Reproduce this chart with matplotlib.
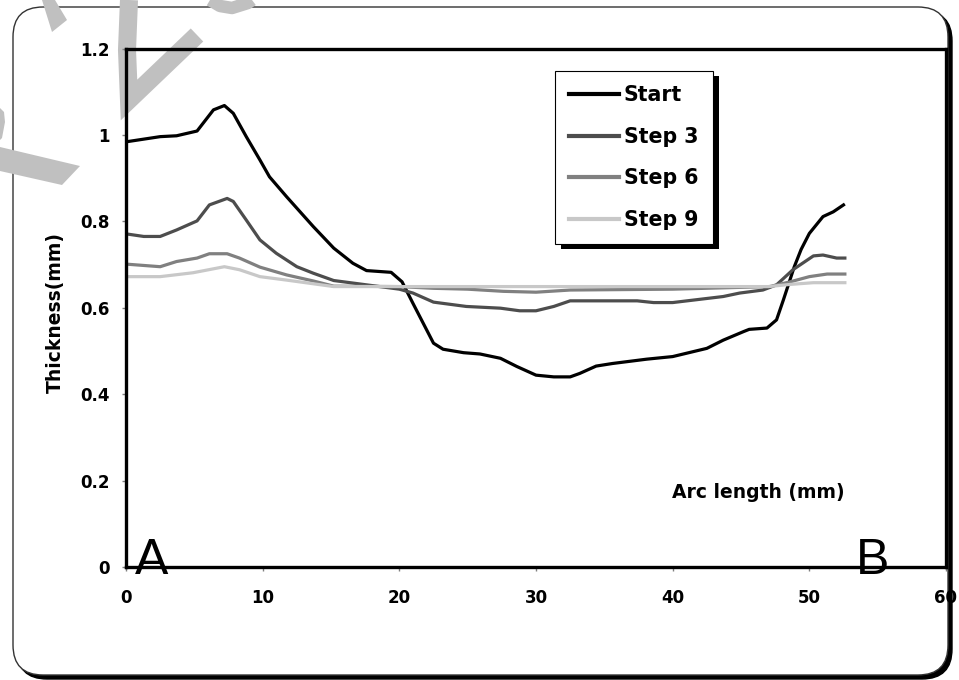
import matplotlib
matplotlib.use("Agg")
import matplotlib.pyplot as plt
from matplotlib.patches import FancyBboxPatch, Rectangle, Polygon
from matplotlib.lines import Line2D
from matplotlib.transforms import IdentityTransform

plt.rcParams['font.family'] = ['DejaVu Sans']

# -----------------------------
# Data
# -----------------------------
start_x = [0, 2.5, 3.7, 5.2, 6.4, 7.2, 7.85, 8.8, 9.8, 10.5,
           11.75, 13.7, 15.2, 16.6, 17.6, 19.4, 20.2, 21.0, 22.5, 23.2,
           24.7, 25.9, 27.4, 28.6, 30.0, 31.3, 32.5, 33.2, 34.4, 35.6,
           38.1, 40.0, 42.5, 43.7, 45.2, 45.6, 46.9, 47.6, 48.1, 48.9,
           49.4, 50.0, 51.0, 51.75, 52.5]
start_y = [0.984, 0.996, 0.998, 1.009, 1.058, 1.068, 1.050, 0.996, 0.942, 0.903,
           0.857, 0.788, 0.738, 0.703, 0.686, 0.682, 0.660, 0.610, 0.518, 0.504,
           0.496, 0.493, 0.483, 0.464, 0.444, 0.440, 0.440, 0.448, 0.465, 0.471,
           0.481, 0.487, 0.506, 0.525, 0.545, 0.550, 0.553, 0.572, 0.618, 0.695,
           0.735, 0.772, 0.811, 0.822, 0.838]

step3_x = [0, 1.3, 2.5, 3.7, 5.2, 6.1, 7.4, 7.85, 8.8, 9.8,
           11.0, 12.5, 13.7, 15.2, 17.6, 20.0, 21.0, 22.5, 24.9, 27.4,
           28.8, 30.0, 31.3, 32.5, 37.4, 38.6, 40.0, 43.7, 44.9, 46.6,
           47.6, 48.8, 50.3, 51.0, 52.0, 52.6]
step3_y = [0.771, 0.765, 0.765, 0.780, 0.801, 0.838, 0.853, 0.846, 0.803, 0.757,
           0.726, 0.695, 0.680, 0.663, 0.653, 0.643, 0.634, 0.613, 0.603, 0.599,
           0.593, 0.593, 0.603, 0.616, 0.616, 0.612, 0.612, 0.626, 0.634, 0.641,
           0.653, 0.688, 0.720, 0.722, 0.715, 0.715]

step6_x = [0, 2.5, 3.7, 5.2, 6.1, 7.4, 8.3, 9.8, 11.75, 13.7,
           15.2, 20.0, 22.5, 25.0, 27.6, 30.0, 32.5, 40.0, 47.1, 48.6,
           50.0, 51.3, 52.6]
step6_y = [0.701, 0.695, 0.707, 0.715, 0.725, 0.725, 0.715, 0.694, 0.676, 0.662,
           0.650, 0.649, 0.645, 0.643, 0.638, 0.636, 0.641, 0.643, 0.649, 0.660,
           0.672, 0.678, 0.678]

step9_x = [0, 2.5, 4.9, 7.2, 8.3, 9.8, 11.75, 15.2, 20.0, 30.0,
           40.0, 47.0, 48.6, 50.3, 52.6]
step9_y = [0.672, 0.672, 0.681, 0.695, 0.688, 0.672, 0.664, 0.649, 0.649, 0.649,
           0.649, 0.649, 0.654, 0.658, 0.658]

labels = ["Start", "Step 3", "Step 6", "Step 9"]
colors = ["#000000", "#4d4d4d", "#808080", "#c8c8c8"]

x_ticks = [0, 10, 20, 30, 40, 50, 60]
y_ticks = [0, 0.2, 0.4, 0.6, 0.8, 1.0, 1.2]
y_tick_labels = ["0", "0.2", "0.4", "0.6", "0.8", "1", "1.2"]

# -----------------------------
# Figure
# -----------------------------
W, H = 959, 680
fig = plt.figure(figsize=(W / 100, H / 100), dpi=100)
fig.patch.set_facecolor("white")

def px(x, y):
    # pixel (from top-left) -> display coords
    return (x, H - y)

# outer rounded frame with shadow
shadow = FancyBboxPatch((17, 1), 935, 668, boxstyle="round,pad=0,rounding_size=30",
                        transform=IdentityTransform(), facecolor="black",
                        edgecolor="black", zorder=-5)
frame = FancyBboxPatch((13, 5), 935, 668, boxstyle="round,pad=0,rounding_size=30",
                       transform=IdentityTransform(), facecolor="white",
                       edgecolor="#333333", linewidth=1.0, zorder=-4)
fig.patches.extend([shadow, frame])

# gray watermark strokes
wm = "#c0c0c0"
strokes = [
    [(42, 0), (55, 0), (67, 20), (52, 32)],
    [(0, 147), (80, 166), (62, 185), (0, 171)],
    [(0, 108), (4, 112), (5, 122), (2, 138), (0, 140)],
]
for pts in strokes:
    fig.patches.append(Polygon([px(*p) for p in pts], closed=True,
                               transform=IdentityTransform(), facecolor=wm,
                               edgecolor="none", zorder=-3))
v_path = [(129, 0), (127, 50), (129, 100), (197, 35)]
fig.lines.append(Line2D([p[0] for p in v_path], [H - p[1] for p in v_path],
                        transform=IdentityTransform(), color=wm, linewidth=13,
                        solid_joinstyle="miter", solid_capstyle="butt", zorder=-3))
arc = [(210, 0), (220, 6), (232, 8), (248, 3), (252, 0)]
fig.lines.append(Line2D([p[0] for p in arc], [H - p[1] for p in arc],
                        transform=IdentityTransform(), color=wm, linewidth=9,
                        solid_capstyle="butt", zorder=-3))

# -----------------------------
# Axes
# -----------------------------
ax = fig.add_axes([126 / W, 1 - 567 / H, (946 - 126) / W, (567 - 48.5) / H])
ax.set_facecolor("none")

series = [(start_x, start_y), (step3_x, step3_y), (step6_x, step6_y), (step9_x, step9_y)]
for (xs, ys), lab, col in zip(series, labels, colors):
    ax.plot(xs, ys, color=col, linewidth=2.3, label=lab, solid_joinstyle="round")

ax.set_xlim(0, 60)
ax.set_ylim(0, 1.2)
ax.set_xticks(x_ticks)
ax.set_yticks(y_ticks)
ax.set_yticklabels(y_tick_labels)
for s in ax.spines.values():
    s.set_linewidth(2.4)
    s.set_color("black")
ax.tick_params(direction="out", length=3, width=1, color="#808080",
               labelsize=12, labelcolor="black")
ax.tick_params(axis="x", pad=13)
ax.tick_params(axis="y", pad=9)
for t in ax.get_xticklabels() + ax.get_yticklabels():
    t.set_fontweight("bold")

ax.text(0.771, 0.143, "Arc length (mm)", transform=ax.transAxes, ha="center",
        va="center", fontsize=13.5, fontweight="bold")
fig.text(55 / W, 1 - 313 / H, "Thickness(mm)", rotation=90, ha="center",
         va="center", fontsize=13.5, fontweight="bold")

# A / B markers
fig.text(152 / W, 1 - 561 / H, "A", ha="center", va="center", fontsize=36,
         family="Liberation Sans")
fig.text(873 / W, 1 - 561 / H, "B", ha="center", va="center", fontsize=36,
         family="Liberation Sans")

leg = ax.legend(loc="upper left", bbox_to_anchor=(0.523, 0.957), frameon=True,
                fancybox=False, edgecolor="black", framealpha=1,
                prop={"weight": "bold", "size": 14.8}, handlelength=2.4,
                handletextpad=0.25, labelspacing=1.05, borderpad=0.7,
                borderaxespad=0)
leg.get_frame().set_linewidth(0.8)
for line in leg.get_lines():
    line.set_linewidth(3)

fig.canvas.draw()
bb = leg.get_window_extent()
ax.add_patch(Rectangle((bb.x0 + 6, bb.y0 - 5), bb.width, bb.height,
                       transform=IdentityTransform(), facecolor="black",
                       edgecolor="none", zorder=4.5))

fig.savefig("out.png", dpi=100, facecolor="white")
